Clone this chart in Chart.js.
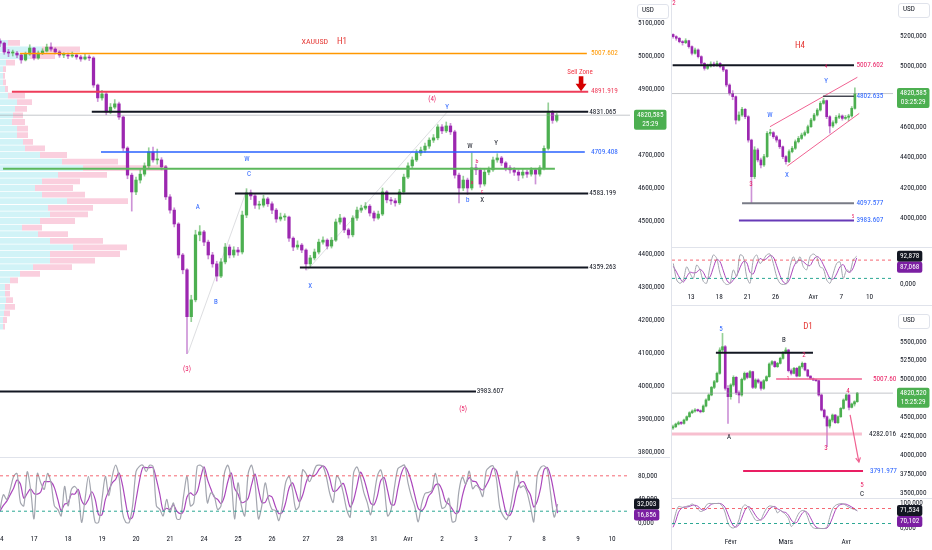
<!DOCTYPE html>
<html><head><meta charset="utf-8"><title>XAUUSD H1 / H4 / D1</title>
<script src="https://cdn.jsdelivr.net/npm/chart.js@4.4.1/dist/chart.umd.min.js"></script>
<style>
html,body{margin:0;padding:0;background:#ffffff;}
#wrap{position:relative;width:932px;height:550px;overflow:hidden;background:#fff;}
canvas{position:absolute;display:block;}
.sep{position:absolute;background:#e0e3eb;}
.usd{position:absolute;box-sizing:border-box;border:1px solid #e0e3eb;border-radius:3px;color:#131722;padding-left:4px;height:15px;width:32px;line-height:13px;background:#fff;}
</style></head>
<body><div id="wrap">
<canvas id="h1p" width="670" height="457" style="left:0;top:0"></canvas>
<canvas id="h1s" width="670" height="92" style="left:0;top:458px"></canvas>
<canvas id="h4p" width="260" height="247" style="left:672px;top:0"></canvas>
<canvas id="h4s" width="260" height="57" style="left:672px;top:248px"></canvas>
<canvas id="d1p" width="260" height="192" style="left:672px;top:306px"></canvas>
<canvas id="d1s" width="260" height="51" style="left:672px;top:499px"></canvas>
<div class="sep" style="left:0;top:457px;width:670px;height:1px"></div>
<div class="sep" style="left:671px;top:0;width:1px;height:550px"></div>
<div class="sep" style="left:672px;top:247px;width:260px;height:1px"></div>
<div class="sep" style="left:672px;top:305px;width:260px;height:1px"></div>
<div class="sep" style="left:672px;top:498px;width:260px;height:1px"></div>
<div class="usd" style="left:637px;top:4px">USD</div>
<div class="usd" style="left:898px;top:3px">USD</div>
<div class="usd" style="left:898px;top:314px">USD</div>
</div>
<script>
// ================= DATA =================
// ---- H1 (8 candles per trading day) ----
const h1DayLabels = ['14','17','18','19','20','21','24','25','26','27','28','31','Avr','2','3','7','8','9','10'];
const h1FirstOpen = 5045;
const h1Close = [
5039,5012,5009,5009,5003,4988,5006,5024,4994,5009,
5015,5027,5021,5012,5003,5003,5000,5003,4997,4991,
4997,4994,4912,4873,4885,4830,4845,4855,4815,4721,
4639,4588,4624,4642,4667,4709,4685,4685,4664,4573,
4533,4491,4397,4352,4210,4261,4458,4467,4436,4397,
4370,4333,4376,4421,4397,4412,4406,4518,4585,4576,
4548,4548,4567,4552,4533,4506,4512,4512,4448,4421,
4427,4412,4370,4388,4406,4436,4442,4424,4442,4497,
4509,4473,4458,4509,4533,4539,4545,4524,4509,4521,
4588,4564,4561,4555,4588,4633,4667,4685,4706,4715,
4727,4745,4752,4785,4773,4788,4770,4639,4600,4624,
4600,4661,4655,4612,4648,4655,4685,4691,4676,4661,
4655,4648,4639,4648,4642,4655,4642,4661,4720,4828,
4805,4820.585];
const h1High = [
5052,5042,5020,5018,5014,5008,5012,5034,5026,5015,
5022,5036,5040,5025,5016,5010,5009,5012,5008,5002,
5006,5003,4998,4915,4896,4890,4856,4868,4860,4818,
4725,4645,4633,4655,4676,4722,4724,4718,4692,4668,
4580,4540,4495,4402,4356,4275,4472,4486,4472,4442,
4405,4378,4386,4432,4428,4422,4420,4530,4598,4594,
4580,4560,4578,4572,4558,4538,4524,4522,4515,4452,
4440,4432,4416,4396,4415,4445,4452,4446,4450,4506,
4520,4512,4478,4516,4542,4548,4556,4550,4530,4530,
4600,4592,4572,4568,4596,4642,4676,4694,4716,4724,
4736,4752,4762,4792,4792,4800,4796,4775,4645,4636,
4630,4706,4672,4660,4656,4664,4694,4704,4696,4680,
4668,4662,4655,4656,4654,4662,4660,4668,4728,4858,
4835,4826];
const h1Low = [
5028,5005,4998,5000,4995,4978,4985,5002,4988,4990,
5004,5012,5015,5006,4996,4995,4992,4996,4990,4984,
4988,4986,4905,4862,4866,4822,4825,4840,4808,4712,
4628,4530,4580,4615,4636,4660,4678,4672,4655,4565,
4524,4482,4388,4340,4098,4195,4255,4440,4425,4385,
4360,4318,4328,4370,4388,4390,4396,4400,4510,4565,
4538,4536,4542,4544,4522,4496,4500,4502,4438,4410,
4414,4404,4352,4362,4382,4400,4430,4415,4418,4438,
4490,4465,4448,4452,4502,4526,4534,4515,4500,4505,
4516,4555,4550,4545,4550,4582,4628,4660,4680,4698,
4708,4720,4738,4746,4765,4768,4762,4630,4555,4592,
4580,4594,4640,4602,4606,4640,4650,4678,4668,4652,
4645,4638,4622,4630,4632,4636,4612,4636,4655,4715,
4796,4800];
// Stoch RSI H1 (10 readings per day)
const h1StochK = [
23,48,40,57,79,84,35,29,87,57, 7,84,68,57,84,68,29,23,12,62,
29,57,62,51,1,40,79,40,1,1, 40,79,46,79,98,79,18,1,1,29,
87,96,98,87,98,96,29,23,12,40, 18,34,7,7,46,79,29,34,96,98,
90,34,51,46,23,29,84,98,73,7, 68,29,12,84,98,68,7,29,68,40,
23,21,4,29,68,79,57,23,29,90, 84,70,82,97,98,96,78,50,35,80,
72,50,22,10,85,95,78,52,35,14, 45,80,90,62,12,22,60,92,96,98,
68,45,28,2,32,50,52,55,84,58, 25,28,42,2,4,55,78,66,88,58,
64,58,45,88,95,97,75,26,12,6, 22,55,88,60,63,52,28,2,80,94,
97,90,48,10,32.003];
const h1StochD = [
20,30,37,48,59,73,66,42,50,58, 50,49,53,70,70,70,60,40,21,32,
34,49,49,57,38,31,40,53,40,14, 14,40,55,68,74,85,65,33,7,10,
39,71,94,94,94,94,74,49,21,25, 23,31,20,16,20,44,51,47,53,76,
95,74,58,44,40,33,45,70,85,59, 49,35,36,42,65,83,58,35,35,46,
44,28,16,18,34,59,68,53,36,47, 68,81,79,83,92,97,91,75,54,55,
62,67,48,27,39,63,86,75,55,34, 31,46,72,77,55,32,31,58,83,95,
87,70,47,25,21,28,45,52,64,66, 56,37,32,24,16,20,46,66,77,71,
70,60,56,64,76,93,89,66,38,15, 13,28,55,68,70,58,48,27,37,59,
90,94,78,49,16.856];
// Visible-range volume profile (row price, buy volume, sell volume)
const vpPrice = [5040,5020,5000,4980,4960,4940,4920,4900,4880,4860,4840,4820,4800,4780,4760,4740,4720,4700,4680,4660,4640,4620,4600,4580,4560,4540,4520,4500,4480,4460,4440,4420,4400,4380,4360,4340,4320,4300,4280,4260,4240,4220,4200,4180];
const vpBuy = [8,42,30,6,3,3,3,5,8,17,15,13,12,17,17,23,25,40,62,83,58,42,35,42,67,48,50,40,22,38,50,73,50,50,33,20,10,5,5,6,5,4,3,3];
const vpSell = [12,38,25,9,3,2,3,3,17,15,12,10,13,11,11,10,20,27,56,84,49,38,38,43,61,45,38,35,20,30,53,54,70,45,39,20,8,5,5,7,10,6,4,2];
const h1Levels = [5007.602, 4891.919, 4831.065, 4709.408, 4658.0, 4583.199, 4359.263, 3983.607];
const h1Last = 4820.585;

// ---- H4 (3 candles per day) ----
const h4DayLabels = {0:'13',3:'18',6:'21',9:'26',13:'Avr',16:'7',19:'10'};
const h4FirstOpen = 5210;
const h4Close = [
5196,5185,5163,5156,5169,5130,5086,5108,5064,5020,
4987,5002,5015,5009,5020,4998,4976,4877,4822,4800,
4646,4679,4717,4668,4514,4273,4449,4383,4350,4405,
4558,4563,4536,4514,4470,4405,4372,4438,4460,4503,
4525,4547,4563,4602,4646,4679,4712,4756,4774,4668,
4607,4629,4664,4673,4657,4664,4673,4723,4820.585];
const h4High = [
5215,5202,5190,5170,5182,5172,5135,5120,5115,5070,
5025,5015,5030,5028,5035,5025,5005,4980,4885,4840,
4805,4700,4730,4722,4675,4520,4470,4460,4395,4420,
4570,4585,4570,4545,4520,4475,4412,4450,4472,4515,
4538,4560,4575,4612,4658,4690,4722,4768,4790,4778,
4675,4640,4675,4688,4680,4676,4684,4735,4858];
const h4Low = [
5185,5172,5155,5140,5150,5120,5075,5080,5055,5005,
4975,4980,4995,4998,5000,4990,4965,4865,4810,4780,
4620,4640,4670,4655,4500,4097,4260,4370,4330,4340,
4400,4545,4525,4500,4458,4392,4355,4365,4430,4452,
4495,4518,4540,4556,4598,4640,4672,4705,4750,4655,
4560,4598,4620,4655,4645,4650,4640,4665,4718];
const h4StochK = [69,15,4,15,58,37,20,64,48,10,4,58,97,86,37,10,0,4,48,26,97,91,26,4,81,97,69,81,97,100,69,26,4,0,4,58,91,69,91,58,48,91,100,91,58,52,15,4,37,69,74,20,48,42,81,92.878];
const h4StochD = [60,40,20,8,25,40,38,40,50,40,20,25,55,82,75,45,15,4,15,28,55,75,72,40,35,65,85,80,85,95,90,62,30,8,3,20,55,75,80,75,65,62,80,92,85,65,42,20,18,35,58,65,45,40,55,87.068];
const h4Levels = [5007.602, 4802.635, 4097.577, 3983.607];

// ---- D1 ----
const d1MonthLabels = {21:'Févr',41:'Mars',63:'Avr'};
const d1FirstOpen = 4360;
const d1Close = [
4377,4412,4430,4421,4465,4509,4562,4584,4597,4589,
4575,4650,4730,4796,4897,4972,5082,5390,5434,4884,
4774,4928,5029,4826,4796,5003,5082,5029,5104,4897,
4994,4967,4884,4985,5038,5205,5236,5170,5214,5280,
5355,5390,5117,5082,5148,5046,5170,5214,5126,5046,
5011,4994,4985,4796,4597,4509,4386,4465,4531,4430,
4509,4619,4730,4796,4633,4677,4707,4820.52];
const d1High = [
4400,4425,4450,4445,4478,4520,4575,4600,4615,4610,
4600,4665,4745,4810,4910,4990,5100,5420,5610,5450,
4920,4945,5050,5040,4850,5020,5100,5095,5120,5110,
5010,5010,4980,5000,5050,5220,5250,5245,5228,5295,
5370,5420,5400,5140,5160,5160,5180,5232,5220,5135,
5050,5020,5005,4990,4810,4610,4520,4480,4545,4540,
4520,4630,4745,4810,4800,4690,4720,4830];
const d1Low = [
4340,4365,4400,4405,4410,4455,4500,4550,4570,4575,
4560,4568,4640,4720,4785,4880,4960,5070,5360,4860,
4420,4740,4910,4800,4690,4780,4990,5010,5020,4880,
4880,4950,4860,4870,4975,5030,5190,5160,5160,5205,
5270,5340,5100,5060,5075,5035,5040,5150,5115,5035,
5000,4985,4975,4780,4585,4490,4113,4360,4440,4420,
4420,4500,4610,4720,4600,4625,4650,4700];
const d1StochK = [15,61,88,86,84,89,92,98,90,78,68,72,92,100,100,100,100,100,88,62,22,5,2,10,35,78,94,90,72,52,34,32,36,60,80,90,89,85,62,72,65,55,40,8,20,45,65,72,70,45,15,3,0,0,0,0,6,45,78,92,97,100,98,92,85,80,76,71.534];
const d1StochD = [5,30,65,80,86,86,88,93,93,89,79,73,77,88,97,100,100,100,96,83,57,30,10,6,16,41,69,87,85,71,53,39,34,43,59,77,86,88,79,73,66,64,53,34,23,24,43,61,69,62,43,21,6,1,0,0,2,17,43,72,89,96,98,97,92,86,79,70.102];
const d1Levels = [5355, 5007.60, 4282.016, 3791.977];

// ================= FONT =================
const FAM = (() => {
  const c = document.createElement('canvas').getContext('2d');
  const s = '5100,000 Avr Févr USD';
  c.font = '40px monospace'; const m = c.measureText(s).width;
  const list = ['Liberation Sans Narrow','Arial Narrow','Roboto Condensed','DejaVu Sans Condensed','Roboto','Liberation Sans','DejaVu Sans'];
  for (const f of list) {
    c.font = '40px "' + f + '", monospace'; const a = c.measureText(s).width;
    c.font = '40px "' + f + '", serif'; const b = c.measureText(s).width;
    if (Math.abs(a - b) < 0.01 && Math.abs(a - m) > 0.5) return f;
  }
  return null;
})();
const FF = FAM ? '"' + FAM + '", sans-serif' : 'sans-serif';
const AX = (() => { const c = document.createElement('canvas').getContext('2d'); c.font = '10px ' + FF; const w = c.measureText('5100,000').width; return Math.max(7, Math.min(9, 10 * 26.5 / w)); })();
document.querySelectorAll('.usd').forEach(d => { d.style.font = AX + 'px ' + FF; });

// ================= HELPERS =================
Chart.defaults.animation = false;
Chart.defaults.responsive = false;
Chart.defaults.maintainAspectRatio = false;
Chart.defaults.events = [];
Chart.defaults.plugins.legend.display = false;
Chart.defaults.plugins.tooltip.enabled = false;
Chart.defaults.font.family = FF;
Chart.defaults.color = '#131722';

const UP = '#4caf50', DN = '#9c27b0', UPW = 'rgba(76,175,80,0.6)', DNW = 'rgba(156,39,176,0.5)';
const fmt = v => v.toFixed(3).replace('.', ',');
const range = (a, b, s) => { const r = []; for (let v = a; v <= b + 1e-9; v += s) r.push(v); return r; };

function candles(first, C, H, L, xOf, bw) {
  const body = [], wick = [], bc = [], wc = []; let o = first;
  C.forEach((c, i) => {
    const x = xOf(i), up = c >= o;
    body.push({x, y: [o, c]}); wick.push({x, y: [L[i], H[i]]});
    bc.push(up ? UP : DN); wc.push(up ? UPW : DNW); o = c;
  });
  return [
    {type: 'bar', xAxisID: 'x', data: body, backgroundColor: bc, barThickness: bw, grouped: false, minBarLength: 1, order: 2},
    {type: 'bar', xAxisID: 'x', data: wick, backgroundColor: wc, barThickness: 1, grouped: false, order: 3}
  ];
}
function seg(x0, y0, x1, y1, color, w, dash) {
  return {type: 'line', xAxisID: 'x', data: [{x: x0, y: y0}, {x: x1, y: y1}], borderColor: color, borderWidth: w, borderDash: dash || [], pointRadius: 0, order: 1};
}
function series(vals, xOf, color, w) {
  return {type: 'line', xAxisID: 'x', data: vals.map((v, i) => ({x: xOf(i), y: v})), borderColor: color, borderWidth: w, pointRadius: 0, tension: 0.3, order: 1};
}
function yAx(min, max, ticks, width, pad) {
  return {position: 'right', min, max, bounds: 'data', grid: {display: false, drawTicks: false}, border: {display: false},
    afterBuildTicks: s => { s.ticks = ticks.map(v => ({value: v})); },
    ticks: {autoSkip: false, padding: pad, font: {family: FF, size: AX}, color: '#131722', callback: v => fmt(v)},
    afterFit: s => { s.width = width; s.paddingTop = 0; s.paddingBottom = 0; }};
}
function xAx(min, max, labels, height, pad) {
  return {type: 'linear', min, max, bounds: 'data', offset: false, grid: {display: false, drawTicks: false}, border: {display: false},
    afterBuildTicks: s => { s.ticks = Object.keys(labels).map(k => ({value: +k})); },
    ticks: {autoSkip: false, maxRotation: 0, padding: pad, font: {family: FF, size: AX}, color: '#131722', callback: v => labels[v]},
    afterFit: s => { s.height = height; s.paddingLeft = 0; s.paddingRight = 0; }};
}
const xHidden = (min, max) => ({type: 'linear', display: false, min, max, bounds: 'data', offset: false});

function rr(ctx, x, y, w, h, r) {
  ctx.beginPath(); ctx.moveTo(x + r, y); ctx.lineTo(x + w - r, y); ctx.quadraticCurveTo(x + w, y, x + w, y + r);
  ctx.lineTo(x + w, y + h - r); ctx.quadraticCurveTo(x + w, y + h, x + w - r, y + h); ctx.lineTo(x + r, y + h);
  ctx.quadraticCurveTo(x, y + h, x, y + h - r); ctx.lineTo(x, y + r); ctx.quadraticCurveTo(x, y, x + r, y); ctx.closePath();
}
const annot = {
  id: 'annot',
  afterDraw(chart, args, o) {
    const ctx = chart.ctx, X = chart.scales.x, Y = chart.scales.y, A = chart.chartArea;
    const px = v => X.getPixelForValue(v), py = v => Y.getPixelForValue(v);
    ctx.save();
    (o.blocks || []).forEach(b => {
      const x = px(b.x), y = py(b.y);
      ctx.fillStyle = b.c; ctx.beginPath();
      ctx.moveTo(x - 2.3, y - 15); ctx.lineTo(x + 2.3, y - 15); ctx.lineTo(x + 2.3, y - 7.5); ctx.lineTo(x + 5.5, y - 7.5);
      ctx.lineTo(x, y); ctx.lineTo(x - 5.5, y - 7.5); ctx.lineTo(x - 2.3, y - 7.5); ctx.closePath(); ctx.fill();
    });
    (o.arrows || []).forEach(a => {
      const x1 = px(a.x1), y1 = py(a.y1), x2 = px(a.x2), y2 = py(a.y2);
      ctx.strokeStyle = a.c; ctx.lineWidth = 1.2; ctx.beginPath(); ctx.moveTo(x1, y1); ctx.lineTo(x2, y2); ctx.stroke();
      const ang = Math.atan2(y2 - y1, x2 - x1), L = 5;
      ctx.beginPath(); ctx.moveTo(x2 - L * Math.cos(ang - 0.5), y2 - L * Math.sin(ang - 0.5)); ctx.lineTo(x2, y2);
      ctx.lineTo(x2 - L * Math.cos(ang + 0.5), y2 - L * Math.sin(ang + 0.5)); ctx.stroke();
    });
    (o.texts || []).forEach(t => {
      ctx.font = t[4] + 'px ' + FF; ctx.fillStyle = t[3]; ctx.textAlign = t[5] || 'center'; ctx.textBaseline = 'middle';
      ctx.fillText(t[0], px(t[1]), py(t[2]));
    });
    let prev = -1e9;
    (o.boxes || []).forEach(b => {
      const lh = 9; ctx.font = AX + 'px ' + FF;
      const w = Math.max(...b.lines.map(s => ctx.measureText(s).width)) + 6, h = b.lines.length * lh + 2;
      let top = py(b.v) - lh / 2 - 1; if (top < prev) top = prev;
      const x0 = A.right + 4;
      ctx.fillStyle = b.bg; rr(ctx, x0, top, w, h, 2); ctx.fill();
      ctx.fillStyle = b.fg; ctx.textAlign = 'center'; ctx.textBaseline = 'middle';
      b.lines.forEach((s, i) => ctx.fillText(s, x0 + w / 2, top + 1 + lh / 2 + i * lh));
      prev = top + h;
    });
    ctx.restore();
  }
};
const RED = '#e91e63', BLUE = '#2962ff', BLK = '#131722', TITLE = '#e53935';
const K_COL = '#a3a6af', D_COL = 'rgba(156,39,176,0.85)';

// ================= H1 PRICE =================
const H1X = [0, 630 / 34];
const h1Span = [[0.59, 17.26], [0.35, 17.3], [2.7, 17.3], [2.97, 17.2], [0.09, 16.32], [6.91, 17.3], [8.82, 17.3], [0, 14.0]];
const h1Style = [['#ff9800', 1.5], ['#ee3d5a', 2], [BLK, 2], [BLUE, 1.5], ['#5cb85c', 2], [BLK, 2], [BLK, 2], [BLK, 2]];
function profile(start, len, color) {
  const d = [];
  vpPrice.forEach((p, i) => { const s = start ? start[i] : 0; d.push({x: s, y: p}); d.push({x: s + len[i], y: p}); d.push({x: NaN, y: NaN}); });
  return {type: 'line', xAxisID: 'xv', data: d, borderColor: color, borderWidth: 5.8, borderCapStyle: 'butt', pointRadius: 0, spanGaps: false, order: 5};
}
const h1Sets = [
  ...h1Levels.map((p, i) => seg(h1Span[i][0], p, h1Span[i][1], p, h1Style[i][0], h1Style[i][1])),
  seg(H1X[0], h1Last, H1X[1], h1Last, 'rgba(150,153,163,0.55)', 1),
  seg(5.53, 4100, 7.26, 4595, 'rgba(120,123,134,0.25)', 1),
  seg(9.03, 4350, 13.15, 4830, 'rgba(120,123,134,0.25)', 1),
  ...candles(h1FirstOpen, h1Close, h1High, h1Low, i => i / 8, 2.6),
  profile(null, vpBuy, 'rgba(178,235,242,0.6)'),
  profile(vpBuy, vpSell, 'rgba(248,187,208,0.7)')
];
new Chart(document.getElementById('h1p'), {
  type: 'bar', data: {datasets: h1Sets},
  options: {layout: {padding: 0},
    scales: {x: xHidden(H1X[0], H1X[1]), xv: xHidden(0, 630), y: yAx(3784.8, 5169.7, range(3800, 5100, 100), 40, 8)},
    plugins: {annot: {
      texts: [
        ['XAUUSD', 9.26, 5042, TITLE, 8], ['H1', 10.06, 5042, TITLE, 9],
        ['Sell Zone', 17.06, 4951, '#f23645', 7],
        ['5007.602', 17.38, 5007.602, '#ff9800', AX, 'left'], ['4891.919', 17.38, 4891.919, '#ee3d5a', AX, 'left'],
        ['4831.065', 17.33, 4831.065, BLK, AX, 'left'], ['4709.408', 17.38, 4709.408, BLUE, AX, 'left'],
        ['4583.199', 17.33, 4583.199, BLK, AX, 'left'], ['4359.263', 17.33, 4359.263, BLK, AX, 'left'],
        ['3983.607', 14.02, 3983.607, BLK, AX, 'left'],
        ['(4)', 12.71, 4870, RED, 7], ['Y', 13.15, 4845, BLUE, 7], ['W', 13.82, 4727, BLK, 7], ['Y', 14.59, 4736, BLK, 7],
        ['b', 13.76, 4564, BLUE, 7], ['X', 14.18, 4564, BLK, 7], ['a', 13.88, 4618, RED, 6], ['b', 14.03, 4679, RED, 6], ['c', 14.18, 4590, RED, 5],
        ['W', 7.26, 4688, BLUE, 7], ['C', 7.32, 4642, BLUE, 7], ['A', 5.82, 4542, BLUE, 7], ['B', 6.35, 4255, BLUE, 7],
        ['X', 9.12, 4303, BLUE, 7], ['(3)', 5.5, 4051, RED, 7], ['(5)', 13.62, 3930, RED, 7]
      ],
      blocks: [{x: 17.09, y: 4893, c: '#d50000'}],
      boxes: [{v: h1Last, bg: '#4caf50', fg: '#fff', lines: [fmt(h1Last), '25:29']}]
    }}},
  plugins: [annot]
});

// ================= H1 STOCH =================
const h1KLast = h1StochK[h1StochK.length - 1], h1DLast = h1StochD[h1StochD.length - 1];
const h1Lab = {}; h1DayLabels.forEach((l, i) => h1Lab[i] = l);
new Chart(document.getElementById('h1s'), {
  type: 'line',
  data: {datasets: [
    seg(H1X[0], 80, H1X[1], 80, 'rgba(242,54,69,0.75)', 1, [3, 3]),
    seg(H1X[0], 20, H1X[1], 20, 'rgba(8,153,129,0.85)', 1, [3, 3]),
    series(h1StochK, i => i / 10, K_COL, 1.2),
    series(h1StochD, i => i / 10, D_COL, 1.2)
  ]},
  options: {layout: {padding: 0},
    scales: {x: xAx(H1X[0], H1X[1], h1Lab, 19, 4), y: yAx(-13.56, 110.2, [0, 40, 80], 40, 8)},
    plugins: {annot: {boxes: [
      {v: h1KLast, bg: '#131722', fg: '#fff', lines: [fmt(h1KLast)]},
      {v: h1DLast, bg: '#7b1fa2', fg: '#fff', lines: [fmt(h1DLast)]}]}}},
  plugins: [annot]
});

// ================= H4 PRICE =================
const H4X = [-2.021, 21.49];
const h4Last = h4Close[h4Close.length - 1];
new Chart(document.getElementById('h4p'), {
  type: 'bar',
  data: {datasets: [
    seg(-1.95, h4Levels[0], 17.34, h4Levels[0], BLK, 2),
    seg(14.04, h4Levels[1], 17.34, h4Levels[1], '#434651', 1.5),
    seg(5.43, h4Levels[2], 17.34, h4Levels[2], '#787b86', 2),
    seg(5.1, h4Levels[3], 17.34, h4Levels[3], '#673ab7', 2),
    seg(8.4, 4602, 17.7, 4928, '#f06292', 1),
    seg(10.25, 4343, 17.9, 4690, '#f06292', 1),
    seg(H4X[0], h4Last, H4X[1], h4Last, 'rgba(150,153,163,0.55)', 1),
    ...candles(h4FirstOpen, h4Close, h4High, h4Low, k => -1.9 + k / 3, 2)
  ]},
  options: {layout: {padding: 0},
    scales: {x: xHidden(H4X[0], H4X[1]), y: yAx(3809.1, 5437.3, range(4000, 5200, 200), 39, 7)},
    plugins: {annot: {
      texts: [
        ['H4', 11.6, 5134, TITLE, 9], ['W', 8.4, 4679, BLUE, 7], ['X', 10.21, 4284, BLUE, 7], ['Y', 14.36, 4903, BLUE, 7],
        ['4', 14.36, 4996, RED, 5], ['3', 6.38, 4224, RED, 7], ['5', 17.23, 4007, RED, 5], ['2', -1.81, 5417, RED, 7],
        ['5007.602', 17.6, h4Levels[0], RED, AX, 'left'], ['4802.635', 17.6, h4Levels[1], BLUE, AX, 'left'],
        ['4097.577', 17.6, h4Levels[2], BLUE, AX, 'left'], ['3983.607', 17.6, h4Levels[3], BLUE, AX, 'left']
      ],
      boxes: [{v: h4Last, bg: '#4caf50', fg: '#fff', lines: [fmt(h4Last), '03:25:29']}]
    }}},
  plugins: [annot]
});

// ================= H4 STOCH =================
const H4S0 = -1.88, H4SD = 0.3546;
new Chart(document.getElementById('h4s'), {
  type: 'line',
  data: {datasets: [
    seg(H4X[0], 80, H4X[1], 80, 'rgba(242,54,69,0.75)', 1, [3, 3]),
    seg(H4X[0], 20, H4X[1], 20, 'rgba(8,153,129,0.85)', 1, [3, 3]),
    series(h4StochK, i => H4S0 + i * H4SD, K_COL, 1),
    series(h4StochD, i => H4S0 + i * H4SD, D_COL, 1)
  ]},
  options: {layout: {padding: 0},
    scales: {x: xAx(H4X[0], H4X[1], h4DayLabels, 16, 4), y: yAx(-14.75, 119.7, [0], 39, 7)},
    plugins: {annot: {boxes: [
      {v: h4StochK[h4StochK.length - 1], bg: '#131722', fg: '#fff', lines: [fmt(h4StochK[h4StochK.length - 1])]},
      {v: h4StochD[h4StochD.length - 1], bg: '#7b1fa2', fg: '#fff', lines: [fmt(h4StochD[h4StochD.length - 1])]}]}}},
  plugins: [annot]
});

// ================= D1 PRICE =================
const D1X = [-0.36, 80];
const d1Last = d1Close[d1Close.length - 1];
new Chart(document.getElementById('d1p'), {
  type: 'bar',
  data: {datasets: [
    seg(15.6, d1Levels[0], 50.9, d1Levels[0], BLK, 2),
    seg(37.5, d1Levels[1], 68.7, d1Levels[1], '#f06292', 1.5),
    seg(D1X[0], d1Levels[2], 68.7, d1Levels[2], 'rgba(240,128,160,0.5)', 3),
    seg(25.5, d1Levels[3], 69.1, d1Levels[3], RED, 2),
    seg(D1X[0], d1Last, D1X[1], d1Last, 'rgba(150,153,163,0.55)', 1),
    ...candles(d1FirstOpen, d1Close, d1High, d1Low, i => i, 2)
  ]},
  options: {layout: {padding: 0},
    scales: {x: xHidden(D1X[0], D1X[1]), y: yAx(3435.3, 5971.6, range(3500, 5500, 250), 39, 7)},
    plugins: {annot: {
      texts: [
        ['D1', 49.1, 5694, TITLE, 9], ['5', 17.45, 5668, BLUE, 7], ['A', 20.36, 4241, BLK, 7], ['B', 40.36, 5522, BLK, 7],
        ['2', 47.6, 5324, RED, 7], ['1', 41.8, 5007, RED, 5], ['3', 55.6, 4096, RED, 7], ['4', 63.6, 4849, RED, 7],
        ['5', 68.7, 3607, RED, 7], ['C', 68.7, 3488, BLK, 7],
        ['5007.60', 72.7, d1Levels[1], RED, AX, 'left'], ['4282.016', 71.3, d1Levels[2], BLK, AX, 'left'],
        ['3791.977', 71.6, d1Levels[3], BLUE, AX, 'left']
      ],
      arrows: [{x1: 64.4, y1: 4532, x2: 67.6, y2: 3910, c: '#f06292'}],
      boxes: [{v: d1Last, bg: '#4caf50', fg: '#fff', lines: [fmt(d1Last), '15:25:29']}]
    }}},
  plugins: [annot]
});

// ================= D1 STOCH =================
new Chart(document.getElementById('d1s'), {
  type: 'line',
  data: {datasets: [
    seg(D1X[0], 80, D1X[1], 80, 'rgba(242,54,69,0.75)', 1, [3, 3]),
    seg(D1X[0], 20, D1X[1], 20, 'rgba(8,153,129,0.85)', 1, [3, 3]),
    series(d1StochK, i => i, K_COL, 1),
    series(d1StochD, i => i, D_COL, 1)
  ]},
  options: {layout: {padding: 0},
    scales: {x: xAx(D1X[0], D1X[1], d1MonthLabels, 16, 4), y: yAx(-22, 118, [0, 100], 39, 7)},
    plugins: {annot: {boxes: [
      {v: d1StochK[d1StochK.length - 1], bg: '#131722', fg: '#fff', lines: [fmt(d1StochK[d1StochK.length - 1])]},
      {v: d1StochD[d1StochD.length - 1], bg: '#7b1fa2', fg: '#fff', lines: [fmt(d1StochD[d1StochD.length - 1])]}]}}},
  plugins: [annot]
});
</script>
</body></html>
